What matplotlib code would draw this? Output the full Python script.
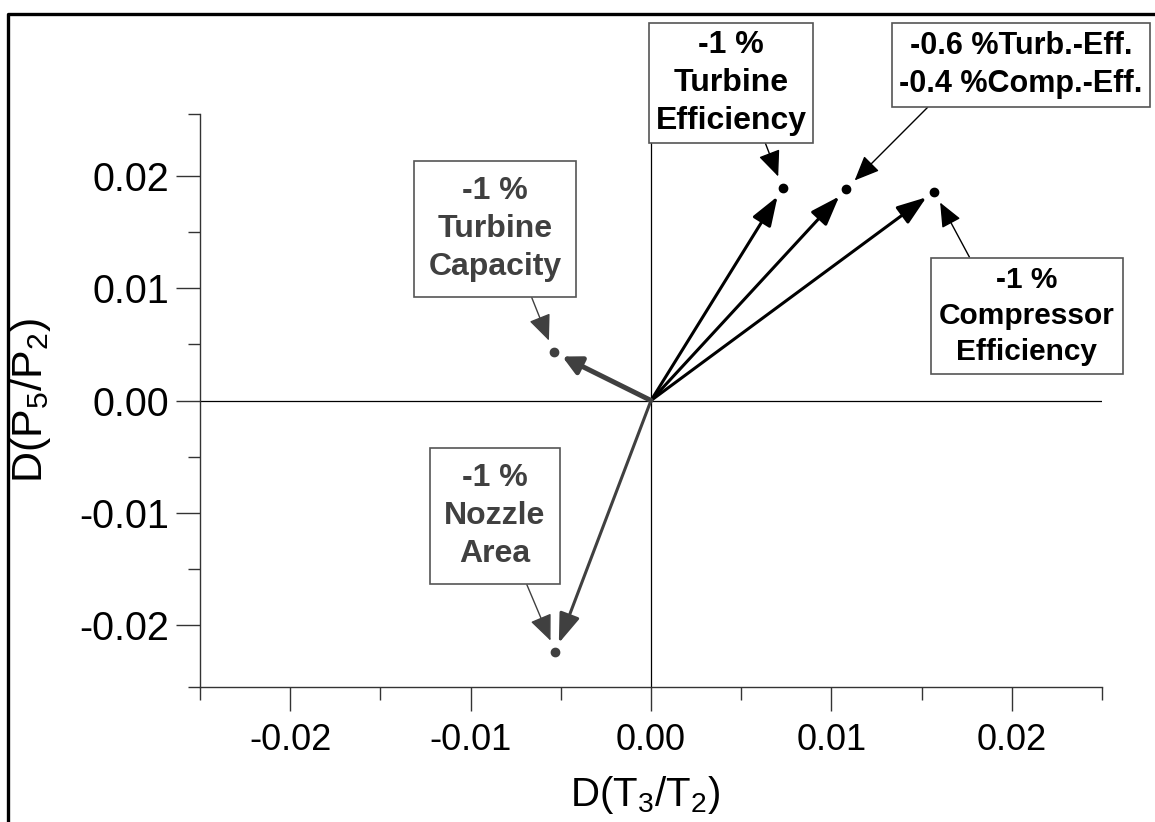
import numpy as np
import matplotlib.pyplot as plt
from matplotlib.lines import Line2D

plt.rcParams['font.family'] = ['Liberation Sans', 'DejaVu Sans']
plt.rcParams['mathtext.fontset'] = 'custom'
plt.rcParams['mathtext.rm'] = 'Liberation Sans'

# change of T3/T2 and P5/P2 for each fault
cases = ["Turbine Efficiency", "Turb.+Comp. Efficiency", "Compressor Efficiency",
         "Turbine Capacity", "Nozzle Area"]
labels = ["-1 %\nTurbine\nEfficiency",
          "-0.6 %Turb.-Eff.\n-0.4 %Comp.-Eff.",
          "-1 %\nCompressor\nEfficiency",
          "-1 %\nTurbine\nCapacity",
          "-1 %\nNozzle\nArea"]
dT3 = [0.0073, 0.0108, 0.0157, -0.0054, -0.0053]
dP5 = [0.0189, 0.0188, 0.0186, 0.0043, -0.0224]

# styling per case
colors = ['black', 'black', 'black', '#404040', '#404040']
vec_lw = [2.2, 2.2, 2.2, 3.6, 2.2]
box_px = [(731, 83), (1021, 65), (1027, 316), (495, 229), (495, 516)]
box_fs = [23, 22, 21.5, 23, 23]
box_pad = [0.2, 0.25, 0.28, 0.46, 0.46]
relpos = [(0.71, 0), (0.15, 0), (0.2, 1), (0.73, 0), (0.75, 0)]

W, H = 1155, 822
fig = plt.figure(figsize=(W / 100, H / 100), dpi=100)
ax = fig.add_axes([200 / W, 1 - 687 / H, 902 / W, 573 / H])

ax.set_xlim(-0.025, 0.025)
ax.set_ylim(-0.0255, 0.0255)
ax.set_xticks([-0.02, -0.01, 0.0, 0.01, 0.02])
ax.set_yticks([-0.02, -0.01, 0.0, 0.01, 0.02])
ax.set_xticks([-0.025, -0.015, -0.005, 0.005, 0.015, 0.025], minor=True)
ax.set_yticks([-0.0255, -0.015, -0.005, 0.005, 0.015, 0.0255], minor=True)
ax.xaxis.set_major_formatter(plt.FormatStrFormatter('%.2f'))
ax.yaxis.set_major_formatter(plt.FormatStrFormatter('%.2f'))
ax.tick_params(which='major', direction='out', length=17, width=1, color='#333333')
ax.tick_params(axis='x', which='major', labelsize=26, pad=9)
ax.tick_params(axis='y', which='major', labelsize=28.5, pad=5)
ax.tick_params(which='minor', direction='out', length=9, width=1, color='#333333')

for s in ['top', 'right']:
    ax.spines[s].set_visible(False)
for s in ['left', 'bottom']:
    ax.spines[s].set_color('#333333')
    ax.spines[s].set_linewidth(1)

ax.axhline(0, color='black', lw=0.9, zorder=1)
ax.axvline(0, color='black', lw=0.9, zorder=1)

ax.set_xlabel(r'D(T$\mathregular{_3}$/T$\mathregular{_2}$)', fontsize=29)
ax.set_ylabel(r'D(P$\mathregular{_5}$/P$\mathregular{_2}$)', fontsize=31)
ax.xaxis.set_label_coords(0.493, -0.152)
ax.yaxis.set_label_coords(-0.163, 0.5)

# vectors from the origin
for i in range(len(cases)):
    head = '-|>,head_length=0.9,head_width=0.32' if i != 3 else '-|>,head_length=0.55,head_width=0.28'
    ax.annotate('', xy=(dT3[i], dP5[i]), xytext=(0, 0),
                arrowprops=dict(arrowstyle=head, lw=vec_lw[i], color=colors[i],
                                shrinkA=0, shrinkB=7, mutation_scale=20),
                zorder=3)
    ax.plot(dT3[i], dP5[i], 'o', color=colors[i], ms=6, zorder=4)

# label boxes
for i in range(len(cases)):
    px, py = box_px[i]
    ax.annotate(labels[i], xy=(dT3[i], dP5[i]), xycoords='data',
                xytext=(px / W, 1 - py / H), textcoords='figure fraction',
                ha='center', va='center', fontsize=box_fs[i], fontweight='bold',
                color=colors[i], linespacing=1.36, multialignment='center',
                bbox=dict(boxstyle='square,pad=%.2f' % box_pad[i], fc='white',
                          ec='#555555', lw=1.2),
                arrowprops=dict(arrowstyle='-|>,head_length=0.7,head_width=0.3',
                                lw=1.0, color=colors[i], relpos=relpos[i],
                                shrinkA=0, shrinkB=9),
                annotation_clip=False, zorder=5)

# frame around the picture (left and top edges)
fig.add_artist(Line2D([8 / W, 8 / W, 1], [0, 1 - 14 / H, 1 - 14 / H],
                      transform=fig.transFigure, color='black', lw=2.4))

fig.savefig('out.png', dpi=100)
